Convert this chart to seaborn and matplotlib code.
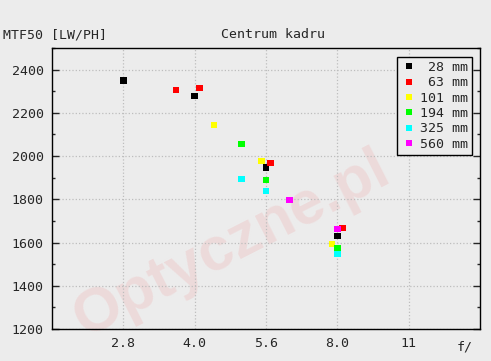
import numpy as np
import pandas as pd
import seaborn as sns
import matplotlib.pyplot as plt
from matplotlib.ticker import MultipleLocator, FixedLocator, NullLocator

# MTF50 at image centre, per focal length (f-number, LW/PH)
f_28 = [2.83, 4.0, 5.66, 8.0]
mtf_28 = [2350, 2278, 1948, 1630]
f_63 = [3.65, 4.1, 5.78, 8.2]
mtf_63 = [2305, 2316, 1968, 1668]
f_101 = [4.39, 5.53, 7.79]
mtf_101 = [2143, 1978, 1594]
f_194 = [5.02, 5.66, 8.0]
mtf_194 = [2056, 1890, 1574]
f_325 = [5.02, 5.66, 8.0]
mtf_325 = [1894, 1839, 1547]
f_560 = [6.34, 8.0]
mtf_560 = [1796, 1663]

lens_labels = [' 28 mm', ' 63 mm', '101 mm', '194 mm', '325 mm', '560 mm']
lens_colors = ['#000000', '#ff0000', '#ffff00', '#00ff00', '#00ffff', '#ff00ff']
xtick_pos = [2 * 2 ** 0.5, 4, 4 * 2 ** 0.5, 8, 8 * 2 ** 0.5]
xtick_labels = ['2.8', '4.0', '5.6', '8.0', '11']

series = [(f_28, mtf_28), (f_63, mtf_63), (f_101, mtf_101),
          (f_194, mtf_194), (f_325, mtf_325), (f_560, mtf_560)]
rows = []
for lab, (fs, ms) in zip(lens_labels, series):
    for f, m in zip(fs, ms):
        rows.append({'f': f, 'mtf': m, 'lens': lab})
df = pd.DataFrame(rows)

sns.set_theme(style='ticks')
bg = '#ececec'
plt.rcParams['font.family'] = ['DejaVu Sans Mono']
plt.rcParams['font.size'] = 9.5

fig = plt.figure(figsize=(4.91, 3.61), dpi=100, facecolor=bg)
ax = fig.add_axes([52 / 491, 1 - 329 / 361, 428 / 491, 281 / 361])
ax.set_facecolor(bg)

# watermark
ax.text(0.42, 0.30, 'Optyczne.pl', transform=ax.transAxes, fontsize=44,
        fontweight='bold', family='Liberation Sans', color='#eddada', rotation=27,
        ha='center', va='center', zorder=0)

sns.scatterplot(data=df, x='f', y='mtf', hue='lens', palette=lens_colors,
                hue_order=lens_labels, marker='s', s=22, edgecolor='none',
                linewidth=0, ax=ax, zorder=3)

ax.set_xscale('log', base=2)
ax.set_xlim(2, 16)
ax.set_ylim(1200, 2500)
ax.xaxis.set_major_locator(FixedLocator(xtick_pos))
ax.xaxis.set_minor_locator(NullLocator())
ax.set_xticklabels(xtick_labels)
ax.yaxis.set_major_locator(FixedLocator([1200, 1400, 1600, 1800, 2000, 2200, 2400]))
ax.yaxis.set_minor_locator(MultipleLocator(100))
ax.tick_params(axis='x', length=0, pad=6, labelsize=9.5)
ax.tick_params(axis='y', which='major', direction='in', length=5, width=1,
               left=True, right=True, pad=6, labelsize=9.5)
ax.tick_params(axis='y', which='minor', direction='in', length=2.5, width=1,
               left=True, right=True)
ax.grid(True, which='major', color='#bdbdbd', linestyle=':', linewidth=0.9)
ax.set_axisbelow(True)
for sp in ax.spines.values():
    sp.set_color('black')
    sp.set_linewidth(1)
ax.set_xlabel('')
ax.set_ylabel('')

handles, labels = ax.get_legend_handles_labels()
leg = ax.legend(handles, labels, loc='upper right', bbox_to_anchor=(472 / 491, 1 - 57 / 361),
                bbox_transform=fig.transFigure, frameon=True, fancybox=False,
                edgecolor='black', facecolor=bg, framealpha=1, fontsize=9.5,
                handletextpad=0.15, labelspacing=0.18, borderpad=0.3, handlelength=1.3,
                borderaxespad=0, markerscale=1.0)
leg.get_frame().set_linewidth(1)

fig.text(3 / 491, 1 - 35 / 361, 'MTF50 [LW/PH]', ha='left', va='center', fontsize=9.5)
fig.text(273 / 491, 1 - 35 / 361, 'Centrum kadru', ha='center', va='center', fontsize=9.5)
fig.text(465 / 491, 1 - 347 / 361, 'f/', ha='center', va='center', fontsize=9.5)

fig.savefig('out.png', dpi=100, facecolor=bg)
